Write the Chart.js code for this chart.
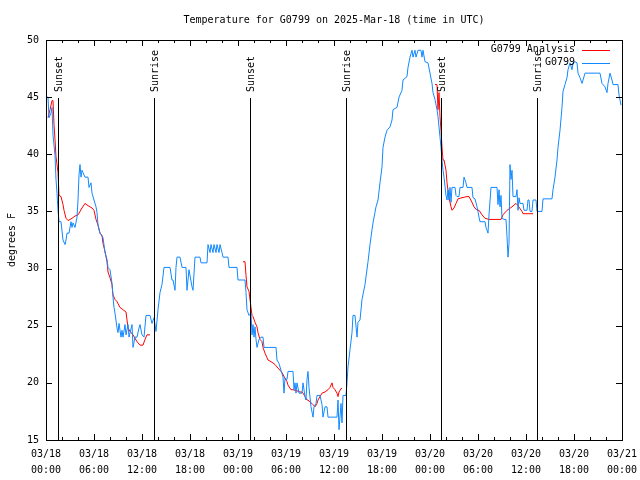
<!DOCTYPE html>
<html><head><meta charset="utf-8">
<script src="https://cdn.jsdelivr.net/npm/chart.js@4.4.1/dist/chart.umd.min.js"></script>
<style>html,body{margin:0;padding:0;background:#fff;}canvas{display:block;}</style>
</head><body>
<canvas id="c" width="640" height="480"></canvas>
<script>
const FONT = "'DejaVu Sans Mono', 'Liberation Mono', monospace";
const chartTitle = 'Temperature for G0799 on 2025-Mar-18 (time in UTC)';
const yAxisLabel = 'degrees F';
const seriesNames = ['G0799 Analysis', 'G0799'];
const seriesColors = ['#ff0000', '#1188ff'];
const tickDates = ['03/18','03/18','03/18','03/18','03/19','03/19','03/19','03/19','03/20','03/20','03/20','03/20','03/21'];
const tickTimes = ['00:00','06:00','12:00','18:00','00:00','06:00','12:00','18:00','00:00','06:00','12:00','18:00','00:00'];
const sunEventHours = [1.55, 13.55, 25.55, 37.55, 49.42, 61.42];
const sunEventNames = ['Sunset','Sunrise','Sunset','Sunrise','Sunset','Sunrise'];

// hours since 03/18 00:00 UTC
const obsHours = [0,0.25,0.375,0.625,0.75,0.875,1.125,1.25,1.375,1.5,1.625,1.875,2.125,2.375,2.5,2.625,2.875,3.125,3.25,3.375,3.625,3.875,4,4.125,4.25,4.375,4.5,4.625,4.875,5.25,5.375,5.625,5.75,6,6.25,6.375,6.5,6.75,7.125,7.375,7.625,7.75,8,8.25,8.375,8.5,8.625,8.875,9,9.125,9.375,9.5,9.625,9.875,10,10.25,10.375,10.75,10.875,11.125,11.375,11.625,11.75,12,12.25,12.5,13,13.25,13.5,13.75,14,14.25,14.5,14.75,15.5,15.75,15.875,16.125,16.25,16.375,16.75,17,17.5,17.625,17.875,18.25,18.375,18.625,19.25,19.375,20.125,20.25,20.5,20.625,20.875,21,21.25,21.375,21.625,21.75,22,22.125,22.75,22.875,23.875,24,24.875,25,25.125,25.375,25.625,25.75,25.875,26,26.125,26.25,26.375,26.625,26.875,27.125,27.25,28.75,28.875,29.125,29.375,29.625,29.75,29.875,30.125,30.25,30.875,31,31.125,31.25,31.375,31.625,32,32.125,32.375,32.5,32.625,32.75,32.875,33.125,33.375,33.5,33.75,33.875,34.25,34.5,34.625,34.875,35.125,35.25,36.375,36.5,36.625,36.875,37,37.125,37.5,37.625,37.75,38,38.25,38.375,38.625,38.875,39,39.25,39.5,39.875,40.25,40.5,40.75,40.875,41.25,41.5,41.75,42,42.125,42.375,42.625,43,43.25,43.375,43.875,44.125,44.5,44.625,45.125,45.25,45.5,45.75,45.875,46.125,46.25,46.5,46.875,47,47.125,47.375,47.75,48,48.25,48.375,48.625,48.875,49,49.25,49.375,49.5,49.625,49.75,50,50.125,50.25,50.375,50.5,50.625,50.75,51.125,51.25,51.375,51.625,51.75,52.125,52.25,52.5,52.625,53.25,53.375,53.625,53.875,54,54.125,54.25,54.875,55,55.25,55.375,55.625,56.375,56.5,56.625,56.75,56.875,57,57.25,57.5,57.625,57.75,57.875,58,58.125,58.25,58.375,58.75,58.875,59,59.125,59.25,59.625,59.75,60.125,60.25,60.375,60.5,60.75,60.875,61.25,61.375,62,62.125,63.25,63.375,63.625,63.875,64,64.25,64.5,64.625,64.875,65.125,65.25,65.5,65.75,65.875,66.125,66.375,66.5,66.75,67,67.125,67.375,69.25,69.5,69.875,70.125,70.25,70.5,70.75,70.875,71.5,71.625,71.875];
const obsTempF = [45.0,45.0,43.2,43.6,44.1,41.7,39.9,37.8,36.6,35.1,34.1,34.1,32.5,32.1,32.5,33.1,33.1,34.1,33.6,34.0,33.6,34.5,36.0,38.2,39.1,38.0,38.6,38.4,38.0,38.0,37.1,37.5,36.6,36.0,35.4,34.9,33.8,33.1,32.7,31.4,30.8,30.1,29.9,28.7,27.5,26.6,26.1,24.8,24.4,25.2,24.0,24.6,24.0,25.1,24.2,25.1,24.0,25.1,23.1,24.0,24.0,24.8,25.1,24.2,24.0,25.9,25.9,25.2,25.7,24.5,26.4,27.9,28.6,30.1,30.1,29.0,29.0,28.1,30.1,31.0,31.0,30.1,30.1,28.1,29.9,28.4,28.1,31.0,31.0,30.5,30.5,32.1,31.4,32.1,31.4,32.1,31.4,32.1,31.4,32.1,31.4,31.0,31.0,30.1,30.1,29.0,29.0,27.9,26.4,25.9,26.1,24.2,25.1,24.0,24.9,23.8,23.1,23.8,24.0,24.0,23.1,23.1,22.0,21.7,21.1,20.5,19.1,20.4,20.3,21.0,21.0,19.4,20.0,19.1,20.0,19.1,19.1,20.0,18.8,18.5,20.3,21.0,19.6,17.9,17.0,17.9,18.2,18.9,18.9,18.1,17.0,17.9,17.9,17.0,17.0,18.5,15.9,18.2,16.5,18.9,18.9,20.0,21.4,22.9,24.4,25.9,25.9,24.0,25.3,25.5,27.3,28.6,30.6,32.1,33.4,34.0,35.4,36.0,37.5,38.9,40.6,41.5,42.1,42.4,43.0,43.9,44.1,45.0,45.6,46.5,46.8,47.6,48.5,49.1,48.5,49.1,48.5,49.1,49.1,48.5,49.1,48.1,48.0,47.1,46.2,45.4,44.8,43.9,43.3,41.5,40.6,39.5,38.6,38.0,36.4,36.0,36.9,36.0,37.1,35.8,37.1,37.1,36.4,36.3,36.3,37.1,37.1,38.0,37.5,37.1,37.1,36.2,36.1,35.4,35.0,34.5,34.1,34.1,33.6,33.1,34.7,37.1,37.1,35.6,36.9,35.4,36.4,34.4,34.3,34.3,32.8,31.0,32.2,39.1,37.8,38.6,36.3,36.3,36.9,35.1,36.2,35.7,35.7,35.1,35.1,36.0,36.0,35.0,35.0,36.0,36.0,35.0,35.0,36.1,36.1,36.9,38.0,39.5,40.6,42.1,44.1,45.5,46.1,46.7,47.4,48.0,47.4,48.0,48.1,48.0,47.1,46.7,46.2,46.5,47.1,47.1,46.2,45.9,45.4,46.2,47.1,46.5,46.1,46.1,45.2,44.3];

const analysisHours = [0.25,0.5,0.75,0.875,1,1.125,1.25,1.5,1.625,1.875,2.125,2.25,2.5,2.75,3.25,3.625,4,4.5,4.875,5.25,5.75,6,6.25,6.5,6.75,7,7.125,7.375,7.625,7.75,8,8.25,8.375,8.625,8.875,9.25,9.625,10,10.125,10.25,10.5,10.875,11.375,11.75,12.125,12.375,12.625,13,18,24.625,24.875,25,25.125,25.375,25.625,25.75,25.875,26.125,26.375,26.5,26.75,27,27.125,27.375,27.625,27.75,28.25,28.625,29,29.5,29.875,30.125,30.25,30.625,30.875,31.375,31.75,32,32.125,32.375,32.625,32.75,33,33.25,33.375,33.625,33.875,34,34.25,34.5,34.875,35.25,35.5,35.75,35.875,36.125,36.375,36.5,36.625,36.875,37,43,48.625,48.875,49,49.125,49.25,49.375,49.5,49.625,49.75,50,50.125,50.375,50.625,50.75,51,51.25,51.5,52,52.625,52.875,53.25,53.5,53.875,54.125,54.5,54.875,55.375,56.875,57.125,57.625,58.25,58.75,59,59.5,59.625,60.875];
const analysisTempF = [43.2,43.9,44.7,44.7,42.6,41.3,39.8,38.4,36.4,36.3,35.6,35.1,34.4,34.2,34.4,34.6,34.7,35.3,35.7,35.5,35.3,35.1,34.3,33.8,33.1,32.9,32.2,31.5,30.6,29.7,29.2,28.6,27.7,27.3,27.1,26.6,26.4,26.2,25.5,24.8,24.5,24.2,23.6,23.3,23.3,23.8,24.2,24.2,null,30.6,30.6,29.4,28.4,28.0,26.6,25.9,25.8,25.3,24.9,24.4,23.8,23.6,23.1,22.6,22.2,22.0,21.8,21.6,21.3,20.9,20.4,20.1,19.8,19.4,19.4,19.3,19.2,19.2,19.1,18.8,18.5,18.5,18.3,18.2,18.1,17.9,18.2,18.5,18.8,19.1,19.2,19.4,19.6,20.0,19.6,19.4,19.1,18.8,19.2,19.5,19.5,null,46.1,46.1,43.9,45.4,43.3,42.1,40.6,39.5,39.5,38.6,37.5,36.2,35.4,35.1,35.3,35.7,36.1,36.2,36.3,36.3,35.8,35.4,35.1,35.1,34.7,34.4,34.3,34.3,34.7,35.1,35.4,35.7,35.5,35.0,34.8,34.8];

const X_MIN = 0, X_MAX = 72, Y_MIN = 15, Y_MAX = 50;

const decor = {
  id: 'decor',
  afterDatasetsDraw(chart) {
    const {ctx, chartArea: a, scales: {x, y}} = chart;
    ctx.save();
    ctx.strokeStyle = '#000';
    ctx.fillStyle = '#000';
    ctx.lineWidth = 1;
    ctx.font = '10px ' + FONT;
    // title centred over the plot area
    ctx.textAlign = 'center';
    ctx.textBaseline = 'middle';
    ctx.fillText(chartTitle, (a.left + a.right) / 2, a.top - 20);
    // frame
    ctx.strokeRect(Math.round(a.left) + 0.5, Math.round(a.top) + 0.5, Math.round(a.right - a.left), Math.round(a.bottom - a.top));
    ctx.beginPath();
    for (let h = X_MIN; h <= X_MAX; h += 2) {
      const px = Math.round(x.getPixelForValue(h)) + 0.5;
      const len = (h % 6 === 0) ? 6 : 3;
      ctx.moveTo(px, a.bottom); ctx.lineTo(px, a.bottom - len);
      ctx.moveTo(px, a.top); ctx.lineTo(px, a.top + len);
    }
    for (let v = Y_MIN; v <= Y_MAX; v += 5) {
      const py = Math.round(y.getPixelForValue(v)) + 0.5;
      ctx.moveTo(a.left, py); ctx.lineTo(a.left + 6, py);
      ctx.moveTo(a.right, py); ctx.lineTo(a.right - 6, py);
    }
    ctx.stroke();
    const lineTop = a.top + (a.bottom - a.top) * 0.145;
    sunEventHours.forEach((h, i) => {
      const px = Math.round(x.getPixelForValue(h)) + 0.5;
      ctx.beginPath();
      ctx.moveTo(px, lineTop); ctx.lineTo(px, a.bottom);
      ctx.stroke();
      ctx.save();
      ctx.translate(px + 1, lineTop - 6);
      ctx.rotate(-Math.PI / 2);
      ctx.textAlign = 'left';
      ctx.textBaseline = 'middle';
      ctx.fillText(sunEventNames[i], 0, 0);
      ctx.restore();
    });
    ctx.textAlign = 'right';
    ctx.textBaseline = 'middle';
    seriesNames.forEach((name, i) => {
      const ly = a.top + 9.5 + i * 13;
      ctx.fillStyle = '#000';
      ctx.fillText(name, a.right - 47, ly);
      ctx.strokeStyle = seriesColors[i];
      ctx.beginPath();
      ctx.moveTo(a.right - 40, Math.round(ly) + 0.5);
      ctx.lineTo(a.right - 12, Math.round(ly) + 0.5);
      ctx.stroke();
    });
    ctx.restore();
  }
};

new Chart(document.getElementById('c'), {
  type: 'line',
  data: {
    datasets: [
      {
        label: seriesNames[0],
        data: analysisHours.map((h, i) => ({x: h, y: analysisTempF[i]})),
        borderColor: seriesColors[0],
        borderWidth: 1,
        pointRadius: 0,
        tension: 0,
        spanGaps: false,
        order: 2
      },
      {
        label: seriesNames[1],
        data: obsHours.map((h, i) => ({x: h, y: obsTempF[i]})),
        borderColor: seriesColors[1],
        borderWidth: 1,
        pointRadius: 0,
        tension: 0,
        order: 1
      }
    ]
  },
  options: {
    responsive: false,
    animation: false,
    events: [],
    layout: {padding: {left: 0, right: 18, top: 40, bottom: 0}},
    plugins: {
      legend: {display: false},
      tooltip: {enabled: false},
      title: {display: false}
    },
    scales: {
      x: {
        type: 'linear',
        min: X_MIN, max: X_MAX,
        grid: {display: false, drawTicks: false},
        border: {display: false},
        ticks: {
          stepSize: 6,
          autoSkip: false,
          maxRotation: 0,
          padding: 6,
          color: '#000',
          font: {family: FONT, size: 10, lineHeight: 1.6},
          callback: (v) => { const i = Math.round(v / 6); return [tickDates[i], tickTimes[i]]; }
        },
        afterFit: (s) => { s.height = 40; s.paddingLeft = 0; s.paddingRight = 0; }
      },
      y: {
        type: 'linear',
        min: Y_MIN, max: Y_MAX,
        grid: {display: false, drawTicks: false},
        border: {display: false},
        ticks: {stepSize: 5, padding: 7, color: '#000', font: {family: FONT, size: 10}},
        title: {display: true, text: yAxisLabel, color: '#000', font: {family: FONT, size: 10}, padding: {top: 6, bottom: 0}},
        afterFit: (s) => { s.width = 46; s.paddingTop = 0; s.paddingBottom = 0; }
      }
    }
  },
  plugins: [decor]
});
</script>
</body></html>
